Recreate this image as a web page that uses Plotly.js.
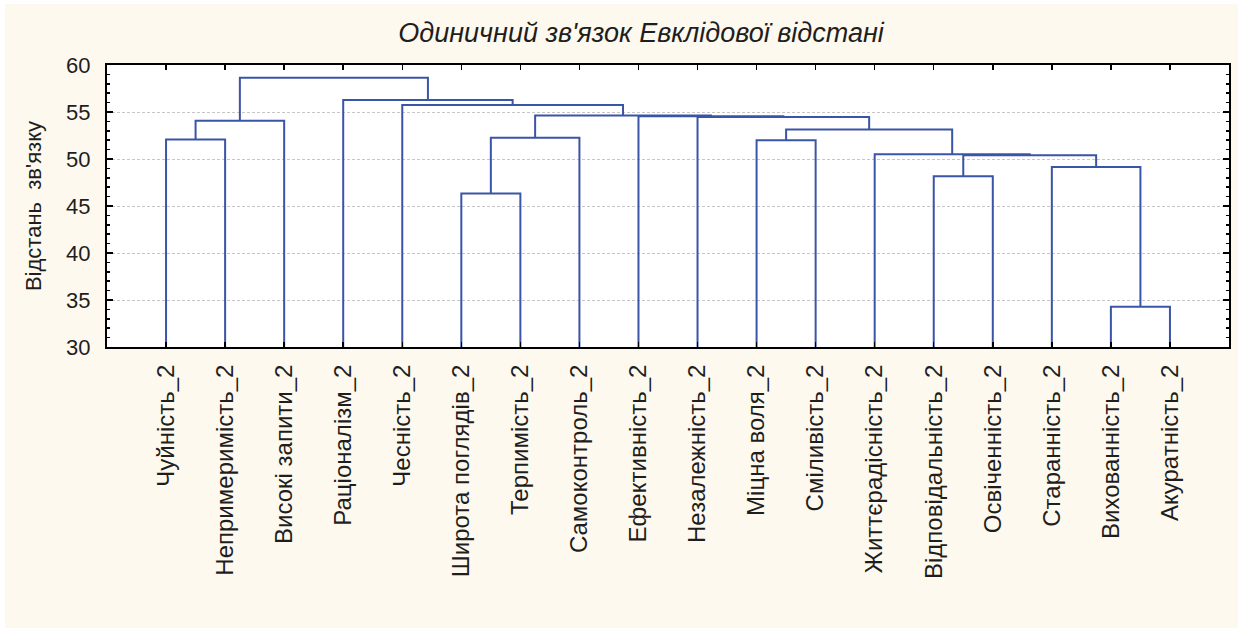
<!DOCTYPE html>
<html>
<head>
<meta charset="utf-8">
<script src="https://cdn.plot.ly/plotly-3.0.1.min.js"></script>
<style>
  html, body { margin: 0; padding: 0; background: #ffffff; }
  #chart { width: 1242px; height: 632px; }
</style>
</head>
<body>
<div id="chart"></div>
<script>
// Leaf labels in dendrogram order
const leafLabels = [
  "Чуйність_2", "Непримеримість_2", "Високі запити_2", "Раціоналізм_2",
  "Чесність_2", "Широта поглядів_2", "Терпимість_2", "Самоконтроль_2",
  "Ефективність_2", "Незалежність_2", "Міцна воля_2", "Сміливість_2",
  "Життєрадісність_2", "Відповідальність_2", "Освіченність_2", "Старанність_2",
  "Вихованність_2", "Акуратність_2"
];

// Merge steps: left child id, right child id, linkage distance
// (ids 0..17 are leaves, 18+ are clusters created in this order)
const mergeLeft   = [0,  18, 5,  20, 10, 16, 15, 13, 25, 12, 22, 9,  8,  21, 4,  3,  19];
const mergeRight  = [1,  2,  6,  7,  11, 17, 23, 14, 24, 26, 27, 28, 29, 30, 31, 32, 33];
const mergeHeight = [52.08, 54.06, 46.32, 52.25, 52.0, 34.28, 49.16, 48.17, 50.40,
                     50.51, 53.14, 54.48, 54.55, 54.62, 55.74, 56.27, 58.65];

const yTickValues = [30, 35, 40, 45, 50, 55, 60];
const chartTitle = "Одиничний зв'язок Евклідової відстані";
const yTitle = "Відстань  зв'язку";

// ---- build dendrogram links from the merge table ----
const yMin = yTickValues[0];
const yMax = yTickValues[yTickValues.length - 1];
const nLeaves = leafLabels.length;
const nodeX = [], nodeY = [];
for (let i = 0; i < nLeaves; i++) { nodeX.push(i); nodeY.push(yMin); }
const lx = [], ly = [];
for (let k = 0; k < mergeHeight.length; k++) {
  const a = mergeLeft[k], b = mergeRight[k], h = mergeHeight[k];
  lx.push(nodeX[a], nodeX[a], nodeX[b], nodeX[b], null);
  ly.push(nodeY[a], h, h, nodeY[b], null);
  nodeX.push((nodeX[a] + nodeX[b]) / 2);
  nodeY.push(h);
}

const font = "Liberation Sans, Arial, sans-serif";
const textColor = "#1e1e1e";

// plot area in pixels (for the cream backdrop shape expressed in paper units)
const W = 1242, H = 632, mL = 107, mR = 13, mT = 65, mB = 285;
const pw = W - mL - mR, ph = H - mT - mB;
const px = v => (v - mL) / pw;
const py = v => (H - mB - v) / ph;

const trace = {
  type: "scatter", mode: "lines", x: lx, y: ly,
  line: { color: "#3B55A6", width: 2 },
  hoverinfo: "skip", showlegend: false, connectgaps: false
};

const layout = {
  width: W, height: H,
  margin: { l: mL, r: mR, t: mT, b: mB },
  paper_bgcolor: "#ffffff",
  plot_bgcolor: "#ffffff",
  font: { family: font, color: textColor },
  title: {
    text: chartTitle,
    x: 641 / W, xanchor: "center", xref: "container",
    y: 1 - 33 / H, yanchor: "middle", yref: "container",
    font: { family: font, size: 27, style: "italic", color: textColor }
  },
  shapes: [
    { type: "rect", xref: "paper", yref: "paper", layer: "below",
      x0: px(5), x1: px(1238), y0: py(628), y1: py(4),
      fillcolor: "#fef9ee", line: { width: 0 } },
    { type: "rect", xref: "paper", yref: "paper", layer: "below",
      x0: 0, x1: 1, y0: 0, y1: 1,
      fillcolor: "#ffffff", line: { width: 0 } }
  ],
  xaxis: {
    range: [-1, nLeaves],
    tickmode: "array",
    tickvals: leafLabels.map((_, i) => i),
    ticktext: leafLabels,
    tickangle: -90,
    ticks: "inside", ticklen: 5, tickwidth: 1.5, tickcolor: "#000",
    showline: true, linecolor: "#000", linewidth: 2, mirror: "ticks",
    showgrid: false, zeroline: false,
    ticklabelstandoff: 6,
    tickfont: { family: font, size: 24, color: textColor }
  },
  yaxis: {
    range: [yMin, yMax],
    tickmode: "array", tickvals: yTickValues,
    ticks: "inside", ticklen: 6, tickwidth: 1.5, tickcolor: "#000",
    minor: { dtick: 1, ticks: "inside", ticklen: 3, tickcolor: "#000", showgrid: false },
    showline: true, linecolor: "#000", linewidth: 2, mirror: "ticks",
    showgrid: true, gridcolor: "#c6c6c6", griddash: "3px,2px", gridwidth: 1,
    zeroline: false,
    ticklabelstandoff: 10,
    tickfont: { family: font, size: 22, color: textColor },
    title: { text: yTitle, standoff: 18, font: { family: font, size: 22, color: textColor } }
  }
};

Plotly.newPlot("chart", [trace], layout, { staticPlot: true, displayModeBar: false });
</script>
</body>
</html>
